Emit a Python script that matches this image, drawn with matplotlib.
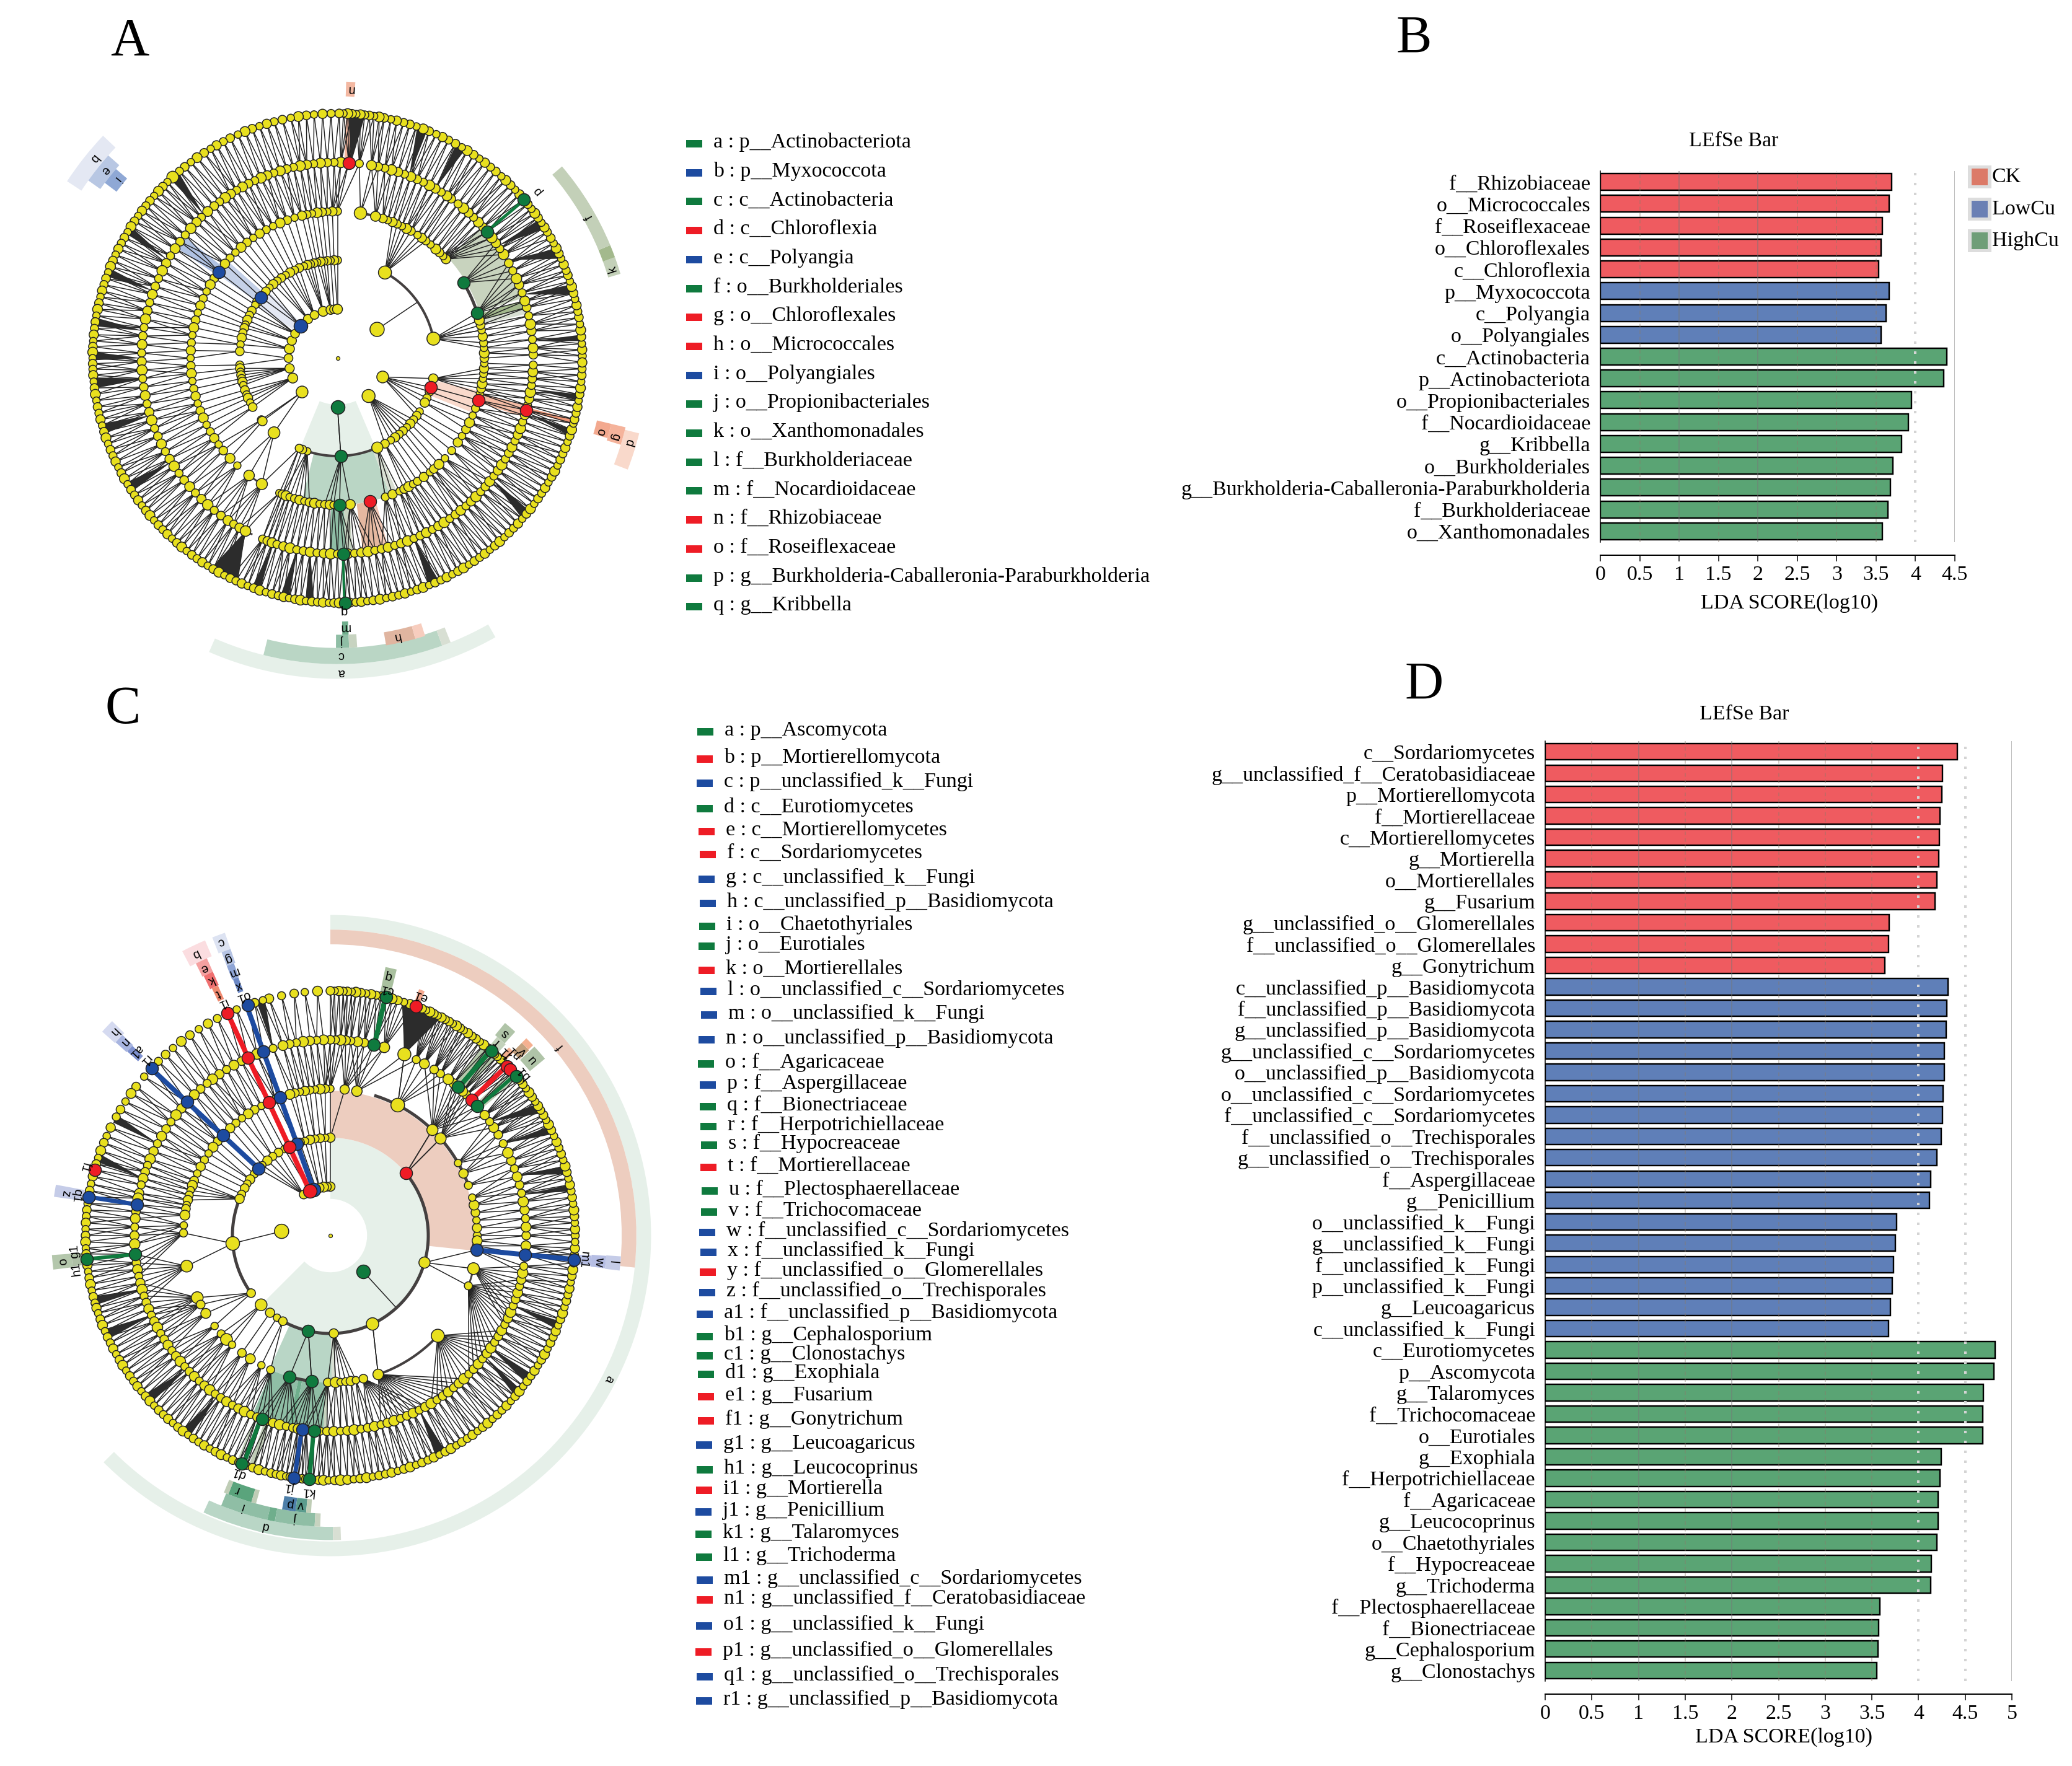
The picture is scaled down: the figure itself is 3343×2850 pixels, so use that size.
import numpy as np
import matplotlib
matplotlib.use('Agg')
import matplotlib.pyplot as plt
from matplotlib.collections import LineCollection
from matplotlib.patches import Rectangle

W, H = 3343, 2850
DPI = 100
plt.rcParams['font.family'] = ['Liberation Serif', 'DejaVu Serif']
FS = 24.5

RED, BLUE, GREEN = '#EE1C25', '#1D4BA0', '#0F7A3E'
YELLOW = '#E8E01E'
group_color = {'r': RED, 'b': BLUE, 'g': GREEN}
bar_color = {'r': '#EF5B60', 'b': '#5F7FB8', 'g': '#5AA474'}

# ---------- LDA bars ----------
b_labels = ['f__Rhizobiaceae', 'o__Micrococcales', 'f__Roseiflexaceae', 'o__Chloroflexales', 'c__Chloroflexia',
            'p__Myxococcota', 'c__Polyangia', 'o__Polyangiales', 'c__Actinobacteria', 'p__Actinobacteriota',
            'o__Propionibacteriales', 'f__Nocardioidaceae', 'g__Kribbella', 'o__Burkholderiales',
            'g__Burkholderia-Caballeronia-Paraburkholderia', 'f__Burkholderiaceae', 'o__Xanthomonadales']
b_values = [3.70, 3.67, 3.58, 3.56, 3.53, 3.67, 3.625, 3.56, 4.40, 4.36, 3.95, 3.91, 3.82, 3.71, 3.68, 3.65, 3.58]
b_groups = list('rrrrrbbbggggggggg')

d_labels = ['c__Sordariomycetes', 'g__unclassified_f__Ceratobasidiaceae', 'p__Mortierellomycota', 'f__Mortierellaceae',
            'c__Mortierellomycetes', 'g__Mortierella', 'o__Mortierellales', 'g__Fusarium',
            'g__unclassified_o__Glomerellales', 'f__unclassified_o__Glomerellales', 'g__Gonytrichum',
            'c__unclassified_p__Basidiomycota', 'f__unclassified_p__Basidiomycota', 'g__unclassified_p__Basidiomycota',
            'g__unclassified_c__Sordariomycetes', 'o__unclassified_p__Basidiomycota', 'o__unclassified_c__Sordariomycetes',
            'f__unclassified_c__Sordariomycetes', 'f__unclassified_o__Trechisporales', 'g__unclassified_o__Trechisporales',
            'f__Aspergillaceae', 'g__Penicillium', 'o__unclassified_k__Fungi', 'g__unclassified_k__Fungi',
            'f__unclassified_k__Fungi', 'p__unclassified_k__Fungi', 'g__Leucoagaricus', 'c__unclassified_k__Fungi',
            'c__Eurotiomycetes', 'p__Ascomycota', 'g__Talaromyces', 'f__Trichocomaceae', 'o__Eurotiales', 'g__Exophiala',
            'f__Herpotrichiellaceae', 'f__Agaricaceae', 'g__Leucocoprinus', 'o__Chaetothyriales', 'f__Hypocreaceae',
            'g__Trichoderma', 'f__Plectosphaerellaceae', 'f__Bionectriaceae', 'g__Cephalosporium', 'g__Clonostachys']
d_values = [4.416, 4.257, 4.25, 4.233, 4.22, 4.216, 4.198, 4.175, 3.685, 3.68, 3.64,
            4.316, 4.304, 4.298, 4.275, 4.275, 4.263, 4.257, 4.24, 4.198, 4.133, 4.12, 3.768, 3.75, 3.732, 3.72, 3.697, 3.68,
            4.823, 4.805, 4.693, 4.69, 4.687, 4.245, 4.228, 4.21, 4.21, 4.198, 4.14, 4.127, 3.585, 3.573, 3.567, 3.555]
d_groups = list('r' * 11 + 'b' * 17 + 'g' * 16)

# ---------- legends next to the cladograms ----------
leg_a_labels = ['a : p__Actinobacteriota', 'b : p__Myxococcota', 'c : c__Actinobacteria', 'd : c__Chloroflexia',
                'e : c__Polyangia', 'f : o__Burkholderiales', 'g : o__Chloroflexales', 'h : o__Micrococcales',
                'i : o__Polyangiales', 'j : o__Propionibacteriales', 'k : o__Xanthomonadales', 'l : f__Burkholderiaceae',
                'm : f__Nocardioidaceae', 'n : f__Rhizobiaceae', 'o : f__Roseiflexaceae',
                'p : g__Burkholderia-Caballeronia-Paraburkholderia', 'q : g__Kribbella']
leg_a_groups = list('gbgrbgrrbgggg' + 'rrgg')

leg_c_labels = ['a : p__Ascomycota', 'b : p__Mortierellomycota', 'c : p__unclassified_k__Fungi', 'd : c__Eurotiomycetes',
                'e : c__Mortierellomycetes', 'f : c__Sordariomycetes', 'g : c__unclassified_k__Fungi',
                'h : c__unclassified_p__Basidiomycota', 'i : o__Chaetothyriales', 'j : o__Eurotiales', 'k : o__Mortierellales',
                'l : o__unclassified_c__Sordariomycetes', 'm : o__unclassified_k__Fungi', 'n : o__unclassified_p__Basidiomycota',
                'o : f__Agaricaceae', 'p : f__Aspergillaceae', 'q : f__Bionectriaceae', 'r : f__Herpotrichiellaceae',
                's : f__Hypocreaceae', 't : f__Mortierellaceae', 'u : f__Plectosphaerellaceae', 'v : f__Trichocomaceae',
                'w : f__unclassified_c__Sordariomycetes', 'x : f__unclassified_k__Fungi', 'y : f__unclassified_o__Glomerellales',
                'z : f__unclassified_o__Trechisporales', 'a1 : f__unclassified_p__Basidiomycota', 'b1 : g__Cephalosporium',
                'c1 : g__Clonostachys', 'd1 : g__Exophiala', 'e1 : g__Fusarium', 'f1 : g__Gonytrichum', 'g1 : g__Leucoagaricus',
                'h1 : g__Leucocoprinus', 'i1 : g__Mortierella', 'j1 : g__Penicillium', 'k1 : g__Talaromyces', 'l1 : g__Trichoderma',
                'm1 : g__unclassified_c__Sordariomycetes', 'n1 : g__unclassified_f__Ceratobasidiaceae', 'o1 : g__unclassified_k__Fungi',
                'p1 : g__unclassified_o__Glomerellales', 'q1 : g__unclassified_o__Trechisporales', 'r1 : g__unclassified_p__Basidiomycota']
leg_c_groups = list('grbgrrbbggrbbbgbgggrgg' + 'bbrbb' + 'gggrrbgrbggbrbrbb')
leg_c_x = [1169, 1168, 1168, 1168, 1171, 1173, 1171, 1173, 1172, 1171, 1171, 1174, 1175, 1171, 1170, 1173, 1173, 1174, 1175, 1174, 1176, 1175,
           1172, 1174, 1173, 1172, 1168, 1168, 1168, 1170, 1170, 1170, 1167, 1168, 1167, 1166, 1166, 1167, 1168, 1168, 1167, 1166, 1168, 1167]
leg_c_y = [1177, 1221, 1260, 1301, 1338, 1375, 1415, 1454, 1491, 1523, 1562, 1596, 1634, 1674, 1713, 1747, 1782, 1814, 1844, 1880, 1918, 1952,
           1985, 2017, 2049, 2082, 2117, 2153, 2184, 2214, 2250, 2289, 2328, 2368, 2401, 2436, 2472, 2509, 2546, 2578, 2620, 2662, 2702, 2741]

# ---------- cladogram A: node angles (degrees) per ring ----------
a_ring1 = [36, 337.4, 309.4, 270, 223.7, 204, 192, 180, 169, 159, 150, 139, 127, 118, 107, 98, 94, 90]
a_ring2 = [90, 92, 94, 96, 98, 100, 102, 104, 106, 108, 110, 113, 116, 119, 122, 125, 128, 131, 134, 137, 141.5, 145, 147, 151, 154, 157, 160,
           162, 165, 168, 172, 176, 184, 186, 188, 190, 192, 194, 196, 199, 202, 204, 207, 210, 219, 220, 229.6, 61, 11.5, 348, 342.7, 340,
           336, 333, 327, 324, 321, 318, 315, 312, 309, 306, 303, 299, 294, 272, 252, 249, 247]
a_ring3 = [90, 92, 94, 96, 98, 100, 102, 104, 107, 110, 113, 116, 119, 122, 125, 128, 131, 134, 137, 140, 144, 147, 150, 153, 156, 159, 162, 165,
           168, 171, 174, 177, 180, 183, 186, 189, 192, 195, 198, 201, 204, 207, 210, 213, 216, 219, 223, 227, 233, 239, 246.7, 248, 249.5, 251,
           253, 255, 257, 259, 261, 263, 265, 267, 268.5, 270.8, 275, 282.7, 289, 292, 295, 297, 299, 301, 303, 306, 309, 311, 313.7, 317, 321,
           325, 328, 331, 334, 337, 340, 343.4, 346, 348, 350, 352, 354, 356, 358, 0, 2, 4, 6, 8.5, 11, 13, 15, 18, 31, 42.4, 44, 46, 48, 50.7,
           53, 55, 57, 60, 62, 64, 66, 68, 70, 72, 75, 81]
a_ring4 = [1, 3, 5.5, 8, 10, 12.5, 15, 17, 19.5, 22, 24, 26.5, 29, 32, 34, 36, 38, 40.2, 42, 44, 46, 48, 50, 52, 54.5, 56, 58, 60, 62, 64, 66, 68,
           70, 72, 74, 76, 78, 80, 83.6, 86.7, 89, 91, 93, 95, 97, 99, 101, 103, 105, 107, 109, 111, 113, 115, 117, 119, 121, 123, 125, 127, 129,
           131.5, 134, 136, 138.5, 141, 143.5, 146, 148.5, 151, 153.5, 156, 158.5, 161, 163.5, 166, 168.5, 171, 173.5, 176, 178.5, 181, 183.5,
           186, 188.5, 191, 193.5, 196, 198.5, 201, 203.5, 206, 208.5, 211, 213.5, 216, 218.5, 221, 223.5, 226, 228.5, 231, 233.5, 236, 238, 240,
           242, 247.5, 249, 250.5, 252, 254, 256, 258, 260, 262, 264, 266, 268, 270, 271.8, 273, 275, 277, 279, 281, 283, 285, 287, 289, 291, 293,
           295, 297, 299, 301, 303, 305, 307, 309, 311, 313, 315, 317, 319, 321, 323, 325, 327, 329, 331, 333, 335, 337, 339, 341, 343, 344.6,
           346, 348, 350, 352, 354, 356, 358]
a_ring5 = [0.5, 2, 3.4, 5, 6.6, 8, 9.6, 11, 12.5, 14, 15.4, 17, 18.3, 19.8, 21, 22.5, 24, 25.3, 26.7, 28, 29.4, 31, 32.3, 33.6, 35, 36.3, 37.6, 39,
           40.4, 42, 43.5, 45, 46.6, 48, 49.7, 51.3, 53, 54.6, 56.2, 58, 59.5, 61.2, 63, 64.6, 66.2, 68, 69.5, 71.2, 72.8, 74.3, 76, 77.4, 79, 80.2,
           81.4, 82.5, 83.6, 84.6, 85.6, 86.6, 87.6, 88.6, 89.6, 91.5, 93.5, 95.5, 97.3, 99.2, 101, 103, 105, 106.8, 108.6, 110.4, 112.2, 114, 116,
           117.8, 119.6, 121.2, 123, 125, 126.8, 128.6, 130.2, 132.3, 134, 135.5, 137, 138.5, 140, 141.5, 143, 144.5, 146, 147.5, 149, 150.5, 152,
           153.5, 155, 156.5, 158, 159.5, 161, 162.5, 164, 165.5, 167, 168.5, 170, 171.5, 173, 174.5, 176, 177.3, 178.6, 180, 181.3, 182.6, 184,
           185.5, 187, 188.5, 190, 191.5, 193, 194.5, 196, 197.5, 199, 200.5, 202, 203.5, 205, 206.5, 208, 209.5, 211, 212.5, 214, 215.5, 217,
           218.5, 220, 221.5, 223, 224.5, 226, 227.5, 229, 230.5, 232, 233.5, 235, 236.5, 238, 239.5, 241, 242.5, 244, 245.5, 247, 248.5, 250,
           251.5, 253, 254.5, 256, 257.3, 258.6, 260, 261.3, 262.6, 264, 265.3, 266.6, 268, 269.2, 270.4, 271.8, 273, 274.3, 275.6, 277, 278.4,
           280, 281.5, 283, 284.5, 286, 287.5, 289, 290.5, 292, 293.5, 295, 296.5, 298, 299.5, 301, 302.5, 304, 305.5, 307, 308.5, 310, 311.5,
           313, 314.5, 316, 317.5, 319, 320.5, 322, 323.5, 325, 326.5, 328, 329.5, 331, 332.5, 334, 335.5, 337, 338.5, 340, 341.5, 343, 344.5,
           345.5, 347, 348.5, 350, 351.5, 353, 354.5, 356, 357.5, 359]
a_big = [(1, 36, 23), (1, 337.4, 19), (1, 309.4, 21), (1, 223.7, 19), (2, 61, 21), (2, 11.5, 21), (2, 229.6, 19), (2, 294, 18), (3, 81, 20),
         (3, 233, 17), (3, 239, 18), (4, 242, 17), (4, 32, 17), (5, 132.3, 19)]
a_marked = [(1, 139, 'b'), (1, 270, 'g'), (2, 141.5, 'b'), (2, 272, 'g'), (2, 342.7, 'r'), (3, 144, 'b'), (3, 18, 'g'), (3, 31, 'g'), (3, 270.8, 'g'),
            (3, 282.7, 'r'), (3, 343.4, 'r'), (4, 40.2, 'g'), (4, 271.8, 'g'), (4, 86.7, 'r'), (4, 344.6, 'r'), (5, 40.4, 'g'), (5, 271.8, 'g')]
a_arcs = [(2, 11.5, 61, 4), (3, 75, 81, 4), (3, 18, 31, 5), (2, 252, 294, 4), (3, 233, 239, 3), (4, 242, 244, 3)]
a_stems = [(270, 1, 272, 2), (36, 1, 35, 2), (309.4, 1, 309, 2), (61, 2, 62, 3), (11.5, 2, 11, 3), (229.6, 2, 239, 3), (252, 2, 248, 3), (294, 2, 289, 3)]
# dense fans between family and genus rings: parent angle, first and last child angle
a_fans = [(86, 83.5, 87.5), (68.5, 68.5, 71), (60, 58.5, 61), (35, 32, 34.5), (30, 24, 26.5), (19, 15, 17.5), (5, 4, 5.5), (351, 350, 351.5), (344, 341.5, 343),
          (322, 319, 321.5), (293, 292, 294.5), (258, 256.5, 258.5), (262, 262.5, 264.5), (251, 249.5, 251.5), (242, 239, 246), (212, 210.5, 213), (197, 195.5, 198),
          (186, 184.5, 187), (180, 178.5, 180.5), (172, 170.5, 172.5), (160, 158.5, 160.5), (150, 147.5, 149.5), (133, 130.5, 133)]
a_thick = [(40.3, 4, 5, 'g', 5), (271.6, 4, 5, 'g', 4)]
# clade shading and outer annotation bands: r0, r1, a0, a1, colour
a_bands = [(0.95, 2, 247.5, 293, '#E6F0E9'), (2, 3, 256, 291, '#BAD6C5'), (2, 3, 291, 294, '#D8DFD3'), (3, 4, 267.6, 272.5, '#8FBEA5'), (3, 4, 272.5, 274.5, '#C7D3C0'),
           (1, 2, 136, 147, '#E4E8F3'), (2, 3, 138.5, 145, '#C5D1E8'), (3, 4, 141.5, 145.5, '#B0C2E2'),
           (3.05, 4, 18, 42, '#C8D3BE'), (3.05, 4, 15, 17.3, '#A3B98D'), (3.05, 4, 13.2, 15, '#D8DFD3'),
           (2, 3, -22, -13, '#F9D9CB'), (3, 4, -17.5, -14, '#F5BCA5'), (4, 5, -15.6, -14.6, '#F09878'),
           (3, 4, 277.5, 283, '#E5B8A0'), (3, 4, 283, 285, '#F3C8B5'), (4, 5, 85.7, 88, '#F5B8A0'),
           (6.25, 6.55, 246.4, 299.5, '#E6F0E9'), (5.92, 6.25, 256, 290, '#BAD6C5'), (5.92, 6.25, 290, 291.7, '#D8DFD3'),
           (5.65, 5.92, 269.7, 272.3, '#8FBEA5'), (5.65, 5.92, 272.3, 273.9, '#C7D3C0'), (5.38, 5.65, 271, 272.3, '#6FAE8C'),
           (5.68, 5.95, 279.6, 285.5, '#E0B5A0'), (5.68, 5.95, 285.5, 287.5, '#F7CDBE'),
           (5.77, 6.03, 16.6, 20, '#C3D0B8'), (5.77, 6.03, 20, 22.5, '#A3B98D'), (5.77, 6.03, 22.5, 40.5, '#C3D0B8'),
           (6.05, 6.35, -21, -14, '#F9D9CB'), (5.75, 6.05, -17, -13.5, '#F5B39B'), (5.45, 5.75, -16.5, -13.5, '#F3A98F'),
           (5.35, 5.65, 86.3, 88.2, '#F3B8A2'),
           (6.25, 6.6, 136.5, 146.8, '#E4E8F3'), (5.95, 6.25, 138.5, 144.5, '#B8C7E3'), (5.65, 5.95, 139.5, 143, '#8FA8D5')]
a_text = [('a', 270.7, 6.42), ('c', 270.7, 6.07), ('j', 271, 5.78), ('m', 271.6, 5.5), ('q', 271.5, 5.16), ('h', 282, 5.82),
          ('f', 29.3, 5.9), ('k', 18, 5.9), ('p', 40, 5.33), ('d', -16.1, 6.2), ('g', -15.8, 5.9), ('o', -15.6, 5.58), ('n', 87.2, 5.5),
          ('b', 140.7, 6.43), ('e', 141, 6.1), ('i', 141, 5.8)]

# ---------- cladogram C ----------
c_ring1 = [90, 94, 98, 103, 107, 110, 114.8, 123, 175, 312.4]
c_ring2 = [39.5, 90, 93, 96, 99, 102, 105, 108, 110, 114.8, 118, 122, 126, 130, 134, 137, 141, 145, 148, 151, 155, 158, 184.6, 216, 225, 232, 237, 241, 257, 272, 295.5, 344]
c_ring3 = [0, 3, 6, 9, 12, 15, 20, 25, 29.6, 41.4, 46, 62.7, 79.6, 84.4, 90, 92, 94, 96, 98, 100, 102, 104, 106, 110, 112, 114.8, 118, 121, 124, 127, 130, 133, 137, 140,
           143, 146, 149, 152, 155, 158, 160, 162, 164, 166, 168, 169.5, 172, 176, 179, 192, 205, 208, 212, 218, 222, 225, 228, 233, 237, 242, 246, 253.9, 262.7, 269, 272,
           274, 276, 278, 280, 283, 289, 317, 340, 347, 354.4, 356, 358]
c_ring4 = [0, 2.5, 5, 7.5, 10, 12.5, 15, 17.5, 20, 22.5, 25, 28, 31, 33.5, 35.6, 38, 41.4, 43.9, 46, 47.5, 49.3, 51, 53, 55.8, 58, 61.3, 64, 67.8, 74, 77.2, 80, 82, 84, 85.5,
           87, 88.5, 90, 92, 94, 96, 98, 100, 102, 104, 107, 110, 112, 114.8, 117, 119.5, 122, 124.5, 127, 129, 131.5, 134, 137, 139.5, 142, 144.5, 147, 149.5, 152, 154.5, 157,
           159, 161, 163, 165, 167.5, 169, 170.9, 173, 175, 177.5, 180, 182.5, 185.5, 188, 190, 192, 194, 196, 198, 200, 202, 204, 206, 208, 210, 212, 214, 216, 218, 220, 222,
           224, 226, 228, 230, 232, 234, 236, 238, 240, 242, 244, 246, 248, 249.6, 251.5, 253, 255, 257, 259, 260.5, 261.8, 263, 265.2, 267, 269, 271, 273, 275, 277, 279, 281,
           283, 285, 287, 289, 291, 293, 295, 297, 299, 301, 303, 305, 307, 309, 311, 313, 315, 317, 319, 321, 323, 325, 327, 329, 331, 333, 335, 337, 339, 341, 343, 345, 347,
           349, 351, 354.4, 357]
c_ring5 = [0, 1.5, 3, 4.5, 6, 7.5, 9, 10.5, 12, 13.5, 15, 16.5, 18, 19.5, 21, 22.5, 24, 25.5, 27, 28.2, 29.5, 30.8, 32, 33.2, 34.5, 35.8, 37, 38.2, 39.4, 40.6, 41.8, 42.8, 43.8,
           45, 46, 47, 48, 48.9, 50, 51.2, 52.4, 53.5, 54.6, 55.8, 57, 58, 59, 60, 61, 62, 63, 64, 65, 66, 67, 68, 69.5, 71, 72.5, 74, 75.4, 76.9, 78, 79.2, 80.4, 81.6, 82.8, 84,
           85, 86, 87, 88, 89, 90, 93, 96, 98.5, 101.5, 104.5, 106, 108, 109.6, 112.5, 114.8, 117.5, 120, 122.5, 125, 127.5, 130, 132.3, 134.6, 136.9, 139.5, 142.5, 144.5, 146.8,
           149, 151, 153.8, 156, 157.7, 159.7, 161.5, 163, 164.4, 166, 167.8, 169.4, 170.9, 172.5, 174, 175.5, 177, 178.5, 180, 181.5, 183, 184.3, 185.5, 187, 188.5, 190, 191.5,
           193, 194.5, 196, 197.2, 198.5, 200, 201.5, 203, 204.5, 206, 207.5, 209, 210.5, 212, 213.5, 215, 216.5, 218, 219.5, 221, 222.5, 224, 225.5, 227, 228.5, 230, 231.5, 233,
           234.5, 236, 237.5, 239, 240.5, 242, 243.5, 245, 246.5, 248, 248.8, 250, 251.5, 253, 254.5, 256, 257.2, 258.4, 259.6, 260.6, 261.4, 262.4, 263.4, 264.2, 265, 266, 267.2,
           268.4, 269.6, 271, 272.4, 274, 275.5, 277, 278.5, 280, 281.5, 283, 284.5, 286, 287.5, 289, 290.5, 292, 293.5, 295, 296.5, 298, 299.5, 301, 302.5, 304, 305.5, 307, 308.5,
           310, 311.5, 313, 314.5, 316, 317.5, 319, 320.5, 322, 323.5, 325, 326.5, 328, 329.5, 331, 332.5, 334, 335.5, 337, 338.5, 340, 341.5, 343, 344.5, 346, 347.5, 349, 350.5,
           352, 353.5, 354.4, 355.5, 357, 358.5]
c_big = [(1, 175, 23), (2, 184.6, 22), (2, 344, 18), (2, 295.5, 20), (2, 225, 19), (3, 62.7, 22), (3, 46, 18), (3, 41.4, 18), (3, 79.6, 17), (3, 192, 19), (3, 205, 19),
         (3, 225, 19), (3, 272, 17), (3, 289, 17), (3, 317, 21), (3, 347, 19), (4, 67.8, 21), (4, 119.5, 16), (5, 272.4, 17)]
c_marked = [(1, 110, 'b'), (1, 114.8, 'r'), (1, 312.4, 'g'), (2, 39.5, 'r'), (2, 110, 'b'), (2, 114.8, 'r'), (2, 137, 'b'), (2, 257, 'g'), (3, 110, 'b'), (3, 114.8, 'r'), (3, 137, 'b'),
            (3, 253.9, 'g'), (3, 262.7, 'g'), (3, 354.4, 'b'), (4, 110, 'b'), (4, 114.8, 'r'), (4, 137, 'b'), (4, 354.4, 'b'), (4, 170.9, 'b'), (4, 185.5, 'g'), (4, 77.2, 'g'), (4, 49.3, 'g'),
            (4, 43.9, 'r'), (4, 41.4, 'g'), (4, 249.6, 'g'), (4, 261.8, 'b'), (4, 265.2, 'g'), (5, 109.6, 'b'), (5, 114.8, 'r'), (5, 136.9, 'b'), (5, 354.4, 'b'), (5, 170.9, 'b'), (5, 185.5, 'g'),
            (5, 164.4, 'r'), (5, 76.9, 'g'), (5, 69.5, 'r'), (5, 48.9, 'g'), (5, 43.8, 'r'), (5, 42.8, 'r'), (5, 40.6, 'g'), (5, 248.8, 'g'), (5, 261.4, 'b'), (5, 265, 'g')]
c_arcs = [(2, 241, 399.5, 5), (2, 158, 216, 5), (3, 22, 72, 5), (3, 289, 317, 4), (3, 253.9, 262.7, 5), (3, 340, 347, 3), (3, 205, 212, 3)]
c_stems = [(312.4, 1, 312.4, 2), (39.5, 2, 46, 3), (62.7, 3, 67.8, 4), (216, 2, 205, 3), (295.5, 2, 289, 3), (257, 2, 262.7, 3), (272, 2, 272, 3), (39.5, 2, 41.4, 3), (344, 2, 354.4, 3)]
c_fans = [(67.8, 63, 73), (107, 105.5, 107.5), (35.6, 30, 32.5), (28, 24.5, 26.5), (18, 14.5, 16.5), (12, 10.5, 12), (339, 337.5, 339.5), (325, 323, 325.5), (322, 319, 321), (297, 295.5, 298), (235, 232.5, 235),
          (223, 220.5, 223), (204, 202.5, 205), (196, 194.5, 196.5), (163, 160.5, 162.5), (152, 150.5, 152.5)]
c_thick = [(110, 1, 5, 'b', 8), (114.8, 1, 5, 'r', 8), (137, 2, 5, 'b', 8), (354.4, 3, 5, 'b', 8), (170.9, 4, 5, 'b', 7), (185.5, 4, 5, 'g', 6), (77, 4, 5, 'g', 8), (49.1, 4, 5, 'g', 8),
           (43.9, 4, 5, 'r', 8), (41, 4, 5, 'g', 6), (249.2, 4, 5, 'g', 7), (261.6, 4, 5, 'b', 7), (265.1, 4, 5, 'g', 7)]
c_bands = [(0.75, 2, -135, 90, '#E6F0E9'), (2, 2.96, -6, 90, '#EDCDBF'), (2, 3, 245.5, 270.5, '#B9D6C6'), (2, 3, 270.5, 272, '#D8DFD3'), (3, 4, 246.5, 257.5, '#8FBEA5'), (3, 4, 257.5, 259, '#6FAE8C'),
           (3, 4, 259, 268, '#8FBEA5'), (3, 4, 268, 269, '#C7D3C0'), (4, 5, 247.5, 248, '#BFCDB6'), (4, 5, 250.5, 252, '#BFCDB6'), (1, 2, 112, 117.5, '#FCE4E6'),
           (4, 5, 47, 51, '#B5C8AB'), (4, 5, 40, 42.3, '#BFCDB6'),
           (6.25, 6.55, -135, 90, '#E6F0E9'), (5.95, 6.25, -6, 90, '#EDCDBF'), (5.95, 6.22, 245.4, 270.5, '#B9D6C6'), (5.95, 6.22, 270.5, 272, '#D8DFD3'),
           (5.68, 5.95, 248, 257.5, '#8FBEA5'), (5.68, 5.95, 257.5, 259, '#6FAE8C'), (5.68, 5.95, 259, 266.9, '#8FBEA5'), (5.68, 5.95, 266.9, 268, '#C7D3C0'),
           (5.4, 5.68, 247.5, 248.5, '#BFCDB6'), (5.4, 5.68, 248.5, 253.5, '#5AA47C'), (5.4, 5.68, 253.5, 254.5, '#BFCDB6'),
           (5.4, 5.68, 260, 262.8, '#4D7EA8'), (5.4, 5.68, 262.8, 265, '#5B9C8D'), (5.4, 5.68, 265, 266, '#BFCDB6'),
           (6.2, 6.55, 113, 117.5, '#FBDDE0'), (5.9, 6.2, 114, 116.3, '#F5A0A0'), (5.6, 5.9, 114, 116, '#F07070'), (5.3, 5.6, 114.2, 115.6, '#F08A70'),
           (6.2, 6.55, 109.2, 111.6, '#DDE3F2'), (5.9, 6.2, 109.2, 111, '#B6C4E4'), (5.6, 5.9, 109.5, 111, '#8FA5D5'), (5.3, 5.6, 109.6, 110.8, '#6B88C5'),
           (5.9, 6.25, 135.5, 138.2, '#D5DAF0'), (5.6, 5.9, 136, 138, '#A8B5E0'), (5.3, 5.6, 136.2, 137.8, '#7F92D0'),
           (5.05, 5.35, -6.6, -4.4, '#B6BEE4'), (5.35, 5.65, -6.8, -4.2, '#B6BEE4'), (5.65, 5.95, -6.9, -4.1, '#C5CCE8'),
           (5.05, 5.7, 169.5, 172, '#C5CCE8'), (5.05, 5.3, 184, 186.8, '#AEBFA6'), (5.3, 5.7, 184, 187, '#B4C7AC'),
           (5.05, 5.6, 76, 78.4, '#A9C09F'), (5.05, 5.35, 68.9, 70.2, '#F5A98F'), (5.3, 5.62, 47.8, 50.6, '#B0C4A8'), (5.05, 5.3, 47.5, 50, '#C3D2BB'),
           (5.28, 5.68, 39.5, 42.8, '#B0C4A8'), (5.28, 5.55, 43, 45.2, '#C4A27F'), (5.55, 5.68, 43.2, 45.2, '#F5B090'), (5.05, 5.3, 45, 46.5, '#F5B090')]
c_text = [('a', -27.2, 6.4), ('f', 39.4, 6.08), ('d', 257.4, 6.08), ('i', 252, 5.82), ('j', 263, 5.82), ('r', 249.7, 5.54), ('p', 261.3, 5.54), ('v', 263.8, 5.54), ('d1', 249, 5.2), ('j1', 261, 5.2),
          ('k1', 265, 5.25), ('b', 115.6, 6.38), ('e', 115.2, 6.04), ('k', 115.2, 5.76), ('t', 114.9, 5.46), ('i1', 114.9, 5.23), ('c', 110.4, 6.4), ('g', 110.3, 6.03), ('m', 110.2, 5.73),
          ('x', 110.2, 5.44), ('o1', 110, 5.2), ('h', 136.7, 6.07), ('n', 136.7, 5.77), ('a1', 136.6, 5.47), ('r1', 136.6, 5.2), ('m1', -5.5, 5.2), ('w', -5.5, 5.52), ('l', -5.4, 5.8),
          ('q1', 171, 5.24), ('z', 171, 5.48), ('g1', 183.5, 5.24), ('h1', 187.5, 5.24), ('o', 185.5, 5.48), ('f1', 164.4, 5.2), ('q', 77.4, 5.44), ('c1', 77, 5.16), ('e1', 69.4, 5.23), ('s', 49.2, 5.46),
          ('r', 49.6, 5.2), ('f1', 46.2, 5.18), ('n1', 45, 5.3), ('v', 43.7, 5.44), ('u', 41.2, 5.47), ('b1', 40.2, 5.16)]

# node sizes along a ring vary; these short patterns are repeated around it
ring_px = {1: [15, 14, 16], 2: [13, 15, 12, 14], 3: [13, 15, 12, 14, 16, 12], 4: [14, 16, 13, 15, 17, 13], 5: [13, 15, 12, 14, 16, 12, 14]}
parent_limit = {2: 15, 3: 8, 4: 25, 5: 25}
UNIT = 79.0
RMAX = 6.85

fig = plt.figure(figsize=(W / DPI, H / DPI), dpi=DPI)
ov = fig.add_axes([0, 0, 1, 1], zorder=5)
ov.set_xlim(0, W)
ov.set_ylim(H, 0)
ov.axis('off')
ov.patch.set_alpha(0)


def px_axes(x0, y0, x1, y1, **kw):
    return fig.add_axes([x0 / W, 1 - y1 / H, (x1 - x0) / W, (y1 - y0) / H], **kw)


def pt(px):
    return px * 72.0 / DPI


def lda_bar(x0, x1, y0, y1, xmax, labels, values, groups, dotted, base_off):
    ax = px_axes(x0, y0, x1, y1)
    pos = np.arange(len(values))
    ax.barh(pos, values, height=0.765, color=[bar_color[g] for g in groups], edgecolor='black', linewidth=pt(2.4), zorder=2)
    ax.set_xlim(0, xmax)
    ax.set_ylim(len(values) - 0.5, -0.5)
    ax.set_yticks(pos)
    ax.set_yticklabels(labels)
    ax.tick_params(axis='y', length=0, pad=pt(16), labelsize=FS)
    ticks = np.arange(0, xmax + 0.01, 0.5)
    ax.set_xticks(ticks)
    ax.set_xticklabels(['%g' % t for t in ticks])
    ax.tick_params(axis='x', length=pt(10), width=pt(1.5), pad=pt(6), labelsize=FS)
    for t in ticks[1:]:
        if t in dotted:
            ax.axvline(t, color='#D4D4D4', lw=pt(4), ls=(0, (1, 3)), zorder=3)
        elif t == xmax:
            ax.axvline(t, color='#BBBBBB', lw=pt(2), zorder=3)
        elif t in (1, 2):
            ax.axvline(t, color='#777777', lw=pt(1.5), alpha=0.6, zorder=3)
        else:
            ax.axvline(t, color='#8A7A6A', lw=pt(1.5), ls=(0, (4, 3)), alpha=0.5, zorder=3)
    for s in ('top', 'right'):
        ax.spines[s].set_visible(False)
    ax.spines['bottom'].set_position(('outward', pt(base_off)))
    ax.spines['bottom'].set_linewidth(pt(2))
    ax.spines['left'].set_linewidth(pt(1.5))
    return ax


lda_bar(2582, 3154, 276, 875, 4.5, b_labels, b_values, b_groups, [4.0], 21)
lda_bar(2493, 3246, 1196, 2713, 5, d_labels, d_values, d_groups, [4.0, 4.5], 21)

ov.text(2797, 228, 'LEfSe Bar', fontsize=FS, ha='center', va='center')
ov.text(2887, 974, 'LDA SCORE(log10)', fontsize=FS, ha='center', va='center')
ov.text(2814, 1153, 'LEfSe Bar', fontsize=FS, ha='center', va='center')
ov.text(2878, 2804, 'LDA SCORE(log10)', fontsize=FS, ha='center', va='center')

# legend of panel B
for name, col, y0 in zip(['CK', 'LowCu', 'HighCu'], ['#DC7A68', '#6B80B4', '#6F9E78'], [272, 324, 375]):
    ov.add_patch(Rectangle((3175, y0 - 5), 38, 37, fc='#DDDDDD', ec='none'))
    ov.add_patch(Rectangle((3181, y0), 26, 27, fc=col, ec='none'))
    ov.text(3214, y0 + 14, name, fontsize=FS, ha='left', va='center')

# taxa legends
for i, (lab, g) in enumerate(zip(leg_a_labels, leg_a_groups)):
    y = 232 + 46.7 * i
    ov.add_patch(Rectangle((1107, y - 6), 26, 12, fc=group_color[g], ec='none'))
    ov.text(1151, y + 6, lab, fontsize=FS, ha='left', va='baseline')
for lab, g, x, y in zip(leg_c_labels, leg_c_groups, leg_c_x, leg_c_y):
    ov.add_patch(Rectangle((x - 44, y - 2), 26, 12, fc=group_color[g], ec='none'))
    ov.text(x, y + 10, lab, fontsize=FS, ha='left', va='baseline')

for s, x, y in [('A', 209, 68), ('B', 2281, 64), ('C', 198, 1146), ('D', 2298, 1107)]:
    ov.text(x, y, s, fontsize=62, ha='center', va='center')


def cladogram(cx, cy, rings, big, marked, arcs, stems, fans, thick, bands, texts):
    half = RMAX * UNIT
    ax = px_axes(cx - half, cy - half, cx + half, cy + half, projection='polar')
    ax.set_ylim(0, RMAX)
    ax.set_axis_off()
    ax.patch.set_alpha(0)

    for r0, r1, a0, a1, col in bands:
        ax.bar(np.radians((a0 + a1) / 2.0), r1 - r0, width=np.radians(a1 - a0), bottom=r0, color=col, linewidth=0, zorder=1)

    # every node hangs from the closest node one ring further in,
    # the outer rings also from the second closest since the real tree is denser
    segs = []
    for k in range(2, 6):
        inner = np.array(rings[k - 1], dtype=float)
        for a in rings[k]:
            diff = np.abs((inner - a + 180) % 360 - 180)
            order = diff.argsort()
            for j in order[:2 if k >= 4 else 1]:
                if diff[j] <= parent_limit[k]:
                    segs.append([(np.radians(a), k), (np.radians(inner[j]), k - 1)])
    for a0, r0, a1, r1 in stems:
        segs.append([(np.radians(a0), r0), (np.radians(a1), r1)])
    ax.add_collection(LineCollection(segs, colors='#222222', linewidths=pt(1.5), zorder=2))

    for ain, a0, a1 in fans:
        th = np.radians([ain, a0, a1])
        ax.fill(th, [4, 5, 5], color='#2C2C2C', lw=0, zorder=2)

    for k, a0, a1, lw in arcs:
        th = np.radians(np.linspace(a0, a1, 80))
        ax.plot(th, np.full(th.size, k), color='#444040', lw=pt(lw), zorder=3)

    for a, r0, r1, g, lw in thick:
        ax.plot(np.radians([a, a]), [r0, r1], color=group_color[g], lw=pt(lw), solid_capstyle='butt', zorder=3.5)

    sized = {(k, a): px for k, a, px in big}
    for k in range(5, 0, -1):
        ang = np.array(rings[k], dtype=float)
        pat = ring_px[k]
        px = np.array([sized.get((k, a), pat[i % len(pat)]) for i, a in enumerate(rings[k])], dtype=float)
        ax.scatter(np.radians(ang), np.full(ang.size, k), s=pt(px) ** 2, c=YELLOW, edgecolors='#222222', linewidths=pt(1.5), zorder=4)
    for k, a, g in marked:
        size = 22 if k == 1 else 20
        ax.scatter(np.radians(a), k, s=pt(size) ** 2, c=group_color[g], edgecolors='#222222', linewidths=pt(1.5), zorder=5)
    ax.scatter([0], [0], s=pt(6) ** 2, c=YELLOW, edgecolors='#222222', linewidths=pt(1.2), zorder=4)

    for s, a, r in texts:
        a = a % 360
        rot = a + 90 if a < 180 else a - 90
        ax.text(np.radians(a), r, s, rotation=rot, rotation_mode='anchor', ha='center', va='center',
                fontsize=14.5, family=['Liberation Sans', 'DejaVu Sans'], zorder=6)
    ax.set_ylim(0, RMAX)


cladogram(544.5, 578, {1: a_ring1, 2: a_ring2, 3: a_ring3, 4: a_ring4, 5: a_ring5}, a_big, a_marked, a_arcs, a_stems, a_fans, a_thick, a_bands, a_text)
cladogram(533, 1994, {1: c_ring1, 2: c_ring2, 3: c_ring3, 4: c_ring4, 5: c_ring5}, c_big, c_marked, c_arcs, c_stems, c_fans, c_thick, c_bands, c_text)

fig.savefig('out.png', dpi=DPI, facecolor='white')
